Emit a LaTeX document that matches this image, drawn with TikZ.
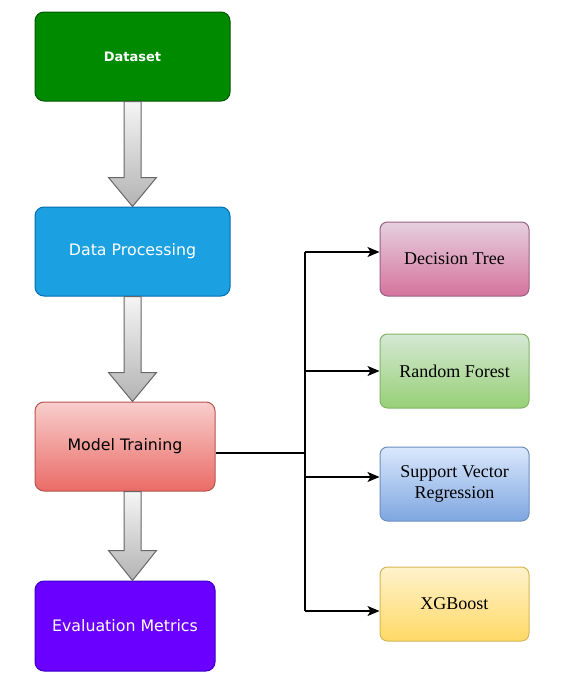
\documentclass[tikz,border=0pt]{standalone}
\usepackage{fontspec}
\setmainfont{Liberation Serif}
\newfontfamily\tahfont{DejaVu Sans}
\usetikzlibrary{arrows.meta,calc}
\definecolor{dsfill}{HTML}{008A00}\definecolor{dsline}{HTML}{005700}
\definecolor{dpfill}{HTML}{1BA1E2}\definecolor{dpline}{HTML}{006EAF}
\definecolor{mttop}{HTML}{F8CECC}\definecolor{mtbot}{HTML}{EA6B66}\definecolor{mtline}{HTML}{B85450}
\definecolor{emfill}{HTML}{6A00FF}\definecolor{emline}{HTML}{3700CC}
\definecolor{dttop}{HTML}{E6D0DE}\definecolor{dtbot}{HTML}{D5739D}\definecolor{dtline}{HTML}{996185}
\definecolor{rftop}{HTML}{D5E8D4}\definecolor{rfbot}{HTML}{97D077}\definecolor{rfline}{HTML}{82B366}
\definecolor{svtop}{HTML}{DAE8FC}\definecolor{svbot}{HTML}{7EA6E0}\definecolor{svline}{HTML}{6C8EBF}
\definecolor{xgtop}{HTML}{FFF2CC}\definecolor{xgbot}{HTML}{FFD966}\definecolor{xgline}{HTML}{D6B656}
\definecolor{artop}{HTML}{F5F5F5}\definecolor{arbot}{HTML}{B3B3B3}\definecolor{arline}{HTML}{666666}
\tikzset{
  leftbox/.style={draw, line width=1pt, rounded corners=9pt, minimum width=195pt, minimum height=89pt, inner sep=0pt},
  rightbox/.style={draw, line width=1pt, rounded corners=7.5pt, minimum width=149pt, minimum height=74pt, inner sep=0pt, align=center, font=\fontsize{18}{21}\selectfont},
  sanslabel/.style={font=\tahfont\fontsize{15.8}{19}\selectfont},
  barrow/.style={draw=arline, line width=1pt, top color=artop, bottom color=arbot, line join=miter},
  conn/.style={draw=black, line width=1.4pt},
  arr/.style={conn, -{Stealth[length=12pt, width=10pt, inset=3pt]}}
}
\begin{document}
\begin{tikzpicture}[x=1pt,y=-1pt]
\useasboundingbox (0,0) rectangle (572,681);
% left column
\node[leftbox, fill=dsfill, draw=dsline, text=white, font=\tahfont\bfseries\fontsize{13}{15}\selectfont] (ds) at (132.5,56.5) {Dataset};
\node[leftbox, fill=dpfill, draw=dpline, text=white, sanslabel] (dp) at (132.5,251.5) {Data Processing};
\node[leftbox, minimum width=180pt, top color=mttop, bottom color=mtbot, draw=mtline, text=black, sanslabel] (mt) at (125,446.5) {Model Training};
\node[leftbox, minimum width=180pt, minimum height=90pt, fill=emfill, draw=emline, text=white, sanslabel] (em) at (125,626) {Evaluation Metrics};
% right column
\node[rightbox, top color=dttop, bottom color=dtbot, draw=dtline] (dt) at (454.5,259) {Decision Tree};
\node[rightbox, top color=rftop, bottom color=rfbot, draw=rfline] (rf) at (454.5,371) {Random Forest};
\node[rightbox, top color=svtop, bottom color=svbot, draw=svline] (sv) at (454.5,484) {Support Vector\\Regression};
\node[rightbox, top color=xgtop, bottom color=xgbot, draw=xgline] (xg) at (454.5,604) {XGBoost};
% block arrows
\path[barrow] let \p1=(ds.south), \p2=(dp.north) in
  (\x1-8.5pt,\y1) -- (\x1-8.5pt,\y2+29pt) -- (\x1-24pt,\y2+29pt) -- (\x1,\y2) -- (\x1+24pt,\y2+29pt) -- (\x1+8.5pt,\y2+29pt) -- (\x1+8.5pt,\y1) -- cycle;
\path[barrow] let \p1=(dp.south), \p2=(mt.north) in
  (\x1-8.5pt,\y1) -- (\x1-8.5pt,\y2+29pt) -- (\x1-24pt,\y2+29pt) -- (\x1,\y2) -- (\x1+24pt,\y2+29pt) -- (\x1+8.5pt,\y2+29pt) -- (\x1+8.5pt,\y1) -- cycle;
\path[barrow] let \p1=(mt.south -| ds.south), \p2=(em.north) in
  (\x1-8.5pt,\y1) -- (\x1-8.5pt,\y2+30pt) -- (\x1-24pt,\y2+30pt) -- (\x1,\y2) -- (\x1+24pt,\y2+30pt) -- (\x1+8.5pt,\y2+30pt) -- (\x1+8.5pt,\y1) -- cycle;
% connectors
\coordinate (mtout) at ($(mt.east)+(0,6.5)$);
\coordinate (j) at (305,453);
\coordinate (jt) at (305,252);
\coordinate (jb) at (305,611);
\draw[conn] (mtout) -- (j);
\draw[conn] (jt) -- (jb);
\draw[arr] (jt) -- (jt -| dt.west);
\draw[arr] (j |- rf.west) -- (rf.west);
\draw[arr] ($(j |- sv.west)+(0,-7)$) -- ($(sv.west)+(0,-7)$);
\draw[arr] (jb) -- (jb -| xg.west);
\end{tikzpicture}
\end{document}
